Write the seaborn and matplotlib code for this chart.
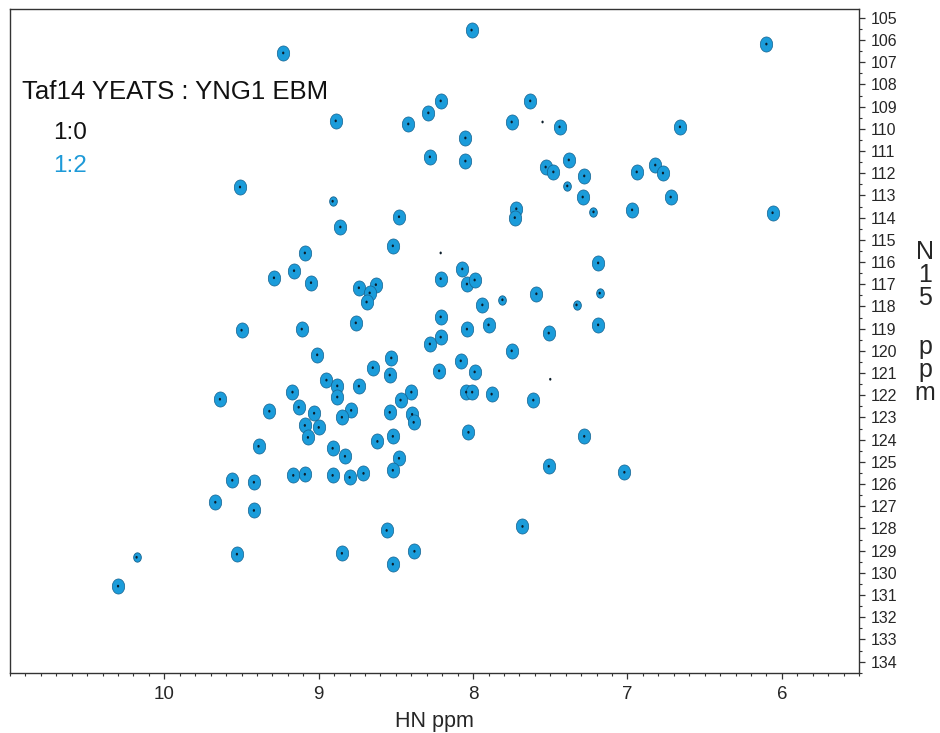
import numpy as np
import pandas as pd
import matplotlib
matplotlib.use("Agg")
import matplotlib.pyplot as plt
import seaborn as sns
from matplotlib.path import Path
from matplotlib.ticker import MultipleLocator, FixedLocator

# ---- peak lists (ppm) ----
# 1:2 (Taf14 YEATS + YNG1 EBM) peaks, normal intensity
hn_bound = [8.01, 9.23, 6.10, 7.63, 8.21, 8.29, 8.42, 8.89, 7.75, 7.44,
            6.66, 8.05, 8.28, 8.05, 7.38, 7.53, 7.48, 7.28, 6.82, 6.77,
            6.94, 9.51, 7.29, 6.72, 6.97, 7.72, 7.73, 6.06, 8.48, 8.86,
            8.52, 9.09, 7.19, 9.16, 8.07, 9.29, 9.05, 8.21, 8.04, 7.99,
            8.74, 8.63, 8.67, 8.69, 7.94, 7.59, 8.21, 7.19, 8.76, 7.51,
            8.04, 7.90, 9.50, 9.11, 8.28, 8.21, 9.01, 8.53, 8.65, 8.08,
            8.22, 7.99, 8.54, 8.95, 8.74, 8.88, 8.88, 9.17, 9.64, 8.045,
            8.006, 7.88, 8.40, 8.47, 8.395, 8.385, 9.13, 9.32, 9.03, 8.79,
            8.85, 8.54, 9.09, 9.00, 9.07, 8.52, 8.62, 8.03, 9.39, 8.91,
            8.83, 8.48, 8.52, 9.56, 9.42, 9.165, 9.09, 8.91, 8.80, 8.71,
            9.67, 7.51, 7.02, 9.42, 7.68, 8.56, 9.53, 8.85, 8.38, 8.52,
            10.30, 7.28, 7.61, 7.75]
n_bound = [105.55, 106.58, 106.18, 108.74, 108.74, 109.28, 109.78, 109.64, 109.69, 109.91,
           109.91, 110.41, 111.26, 111.45, 111.40, 111.72, 111.94, 112.12, 111.63, 111.99,
           111.94, 112.62, 113.07, 113.07, 113.65, 113.60, 114.00, 113.78, 113.96, 114.42,
           115.27, 115.59, 116.04, 116.39, 116.31, 116.71, 116.93, 116.75, 116.99, 116.81,
           117.16, 117.02, 117.39, 117.80, 117.93, 117.43, 118.47, 118.83, 118.74, 119.20,
           119.02, 118.83, 119.07, 119.02, 119.69, 119.38, 120.18, 120.32, 120.76, 120.45,
           120.90, 120.95, 121.09, 121.32, 121.59, 121.58, 122.08, 121.86, 122.18, 121.86,
           121.86, 121.95, 121.86, 122.22, 122.86, 123.22, 122.54, 122.72, 122.81, 122.68,
           122.99, 122.77, 123.36, 123.45, 123.90, 123.85, 124.08, 123.67, 124.30, 124.39,
           124.75, 124.84, 125.38, 125.83, 125.92, 125.61, 125.56, 125.61, 125.70, 125.52,
           126.82, 125.20, 125.47, 127.19, 127.91, 128.09, 129.16, 129.12, 129.03, 129.61,
           130.60, 123.85, 122.22, 120.00]

# 1:2 peaks, weak
hn_weak = [10.18, 8.91, 7.39, 7.22, 7.81, 7.33, 7.18]
n_weak = [129.30, 113.26, 112.57, 113.74, 117.70, 117.93, 117.40]

# peaks seen only in the 1:0 (free) spectrum
hn_free_only = [7.55, 8.21, 7.50]
n_free_only = [109.69, 115.59, 121.28]

title = "Taf14 YEATS : YNG1 EBM"
legend_labels = ["1:0", "1:2"]
legend_colors = ["#111111", "#1e9ad8"]
x_ticks = [6, 7, 8, 9, 10]

BLUE = "#1b9cda"
EDGE = "#15628f"

sns.set_style("ticks")
plt.rcParams["font.family"] = ["Liberation Sans", "DejaVu Sans"]

fig = plt.figure(figsize=(9.4, 7.33), dpi=100)
ax = fig.add_axes([10 / 940, 1 - 672.7 / 733, 849 / 940, 663.7 / 733])

t = np.linspace(0, 2 * np.pi, 64)
ell = Path(np.column_stack([0.82 * np.cos(t), np.sin(t)]))

df_b = pd.DataFrame({"HN": hn_bound, "N": n_bound})
df_w = pd.DataFrame({"HN": hn_weak, "N": n_weak})
df_f = pd.DataFrame({"HN": hn_bound + hn_weak + hn_free_only,
                     "N": n_bound + n_weak + n_free_only})

sns.scatterplot(data=df_b, x="HN", y="N", marker=ell, s=118, color=BLUE,
                edgecolor=EDGE, linewidth=0.5, ax=ax, zorder=3)
sns.scatterplot(data=df_w, x="HN", y="N", marker=ell, s=45, color=BLUE,
                edgecolor=EDGE, linewidth=0.6, ax=ax, zorder=3)
sns.scatterplot(data=df_f, x="HN", y="N", marker=ell, s=4, color="#0b1d2a",
                edgecolor="none", linewidth=0, ax=ax, zorder=4)

ax.set_xlim(11.0, 5.5)
ax.set_ylim(134.5, 104.6)
ax.xaxis.set_major_locator(FixedLocator(x_ticks))
ax.xaxis.set_minor_locator(MultipleLocator(0.1))
ax.yaxis.set_major_locator(MultipleLocator(1))
ax.yaxis.set_minor_locator(MultipleLocator(0.5))
ax.yaxis.tick_right()
ax.tick_params(axis="x", which="major", length=4.5, width=0.9, labelsize=13.5,
               pad=5, color="#333333")
ax.tick_params(axis="x", which="minor", length=2.2, width=0.8, color="#333333")
ax.tick_params(axis="y", which="major", length=4.5, width=0.9, labelsize=11.5,
               pad=4, color="#333333", right=True, left=False)
ax.tick_params(axis="y", which="minor", length=2.2, width=0.8, color="#333333",
               right=True, left=False)
for sp in ax.spines.values():
    sp.set_linewidth(1.0)
    sp.set_color("#333333")
    sp.set_visible(True)

ax.set_xlabel("HN ppm", fontsize=15.5, labelpad=6)
ax.set_ylabel("")

fig.text(925 / 940, 1 - 275 / 733, "N\n1\n5", ha="center", va="center",
         fontsize=18, linespacing=0.95)
fig.text(925 / 940, 1 - 370 / 733, "p\np\nm", ha="center", va="center",
         fontsize=18, linespacing=0.95)

ax.text(22 / 940, 1 - 92 / 733, title, transform=fig.transFigure,
        fontsize=18.5, ha="left", va="center", color="#111111")
ax.text(53 / 940, 1 - 133 / 733, legend_labels[0], transform=fig.transFigure,
        fontsize=17.5, ha="left", va="center", color=legend_colors[0])
ax.text(53 / 940, 1 - 166 / 733, legend_labels[1], transform=fig.transFigure,
        fontsize=17.5, ha="left", va="center", color=legend_colors[1])

fig.savefig("out.png", dpi=100)
